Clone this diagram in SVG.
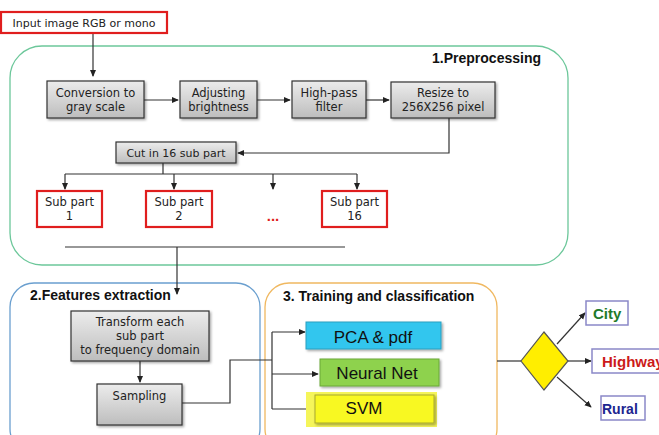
<svg xmlns="http://www.w3.org/2000/svg" width="659" height="435" viewBox="0 0 659 435">
<defs>
<linearGradient id="gg" x1="0" y1="0" x2="0" y2="1"><stop offset="0" stop-color="#ececec"/><stop offset="1" stop-color="#bdbdbd"/></linearGradient>
<filter id="sh" x="-10%" y="-10%" width="130%" height="140%"><feDropShadow dx="1.5" dy="1.5" stdDeviation="1" flood-color="#000" flood-opacity="0.35"/></filter>
<marker id="ah" viewBox="0 0 8 8" refX="7" refY="4" markerWidth="7" markerHeight="7" markerUnits="userSpaceOnUse" orient="auto"><path d="M0,0.5 L8,4 L0,7.5 z" fill="#222"/></marker>
</defs>
<style>
.t{font-family:"DejaVu Sans",sans-serif;font-size:11.5px;fill:#222;text-anchor:middle}
.ti{font-family:"Liberation Sans",Arial,sans-serif;font-size:14px;font-weight:bold;fill:#111}
.gb{fill:url(#gg);stroke:#333;stroke-width:1.2;filter:url(#sh)}
.rb{fill:#fff;stroke:#e01e1e;stroke-width:2.2}
.ln{fill:none;stroke:#333;stroke-width:1.2}
.ar{fill:none;stroke:#333;stroke-width:1.2;marker-end:url(#ah)}
.ct{font-family:"Liberation Sans",Arial,sans-serif;font-size:17px;fill:#111;text-anchor:middle}
.ob{fill:#fff;stroke:#8a88c8;stroke-width:1.5}
.ot{font-family:"Liberation Sans",Arial,sans-serif;font-size:15px;font-weight:bold;text-anchor:start}
</style>
<rect width="659" height="435" fill="#fff"/>
<g id="group-preprocessing">
<rect x="10" y="46" width="558" height="219" rx="32" fill="none" stroke="#6cc79a" stroke-width="1.3"/>
<text class="ti" x="541" y="63" text-anchor="end">1.Preprocessing</text>
</g>
<g id="group-features">
<rect x="10" y="283" width="250" height="170" rx="24" fill="none" stroke="#6a9fcf" stroke-width="1.3"/>
<text class="ti" x="30" y="300">2.Features extraction</text>
</g>
<g id="group-training">
<rect x="265" y="283" width="232" height="170" rx="24" fill="none" stroke="#f0b860" stroke-width="1.3"/>
<text class="ti" x="283" y="301">3. Training and classification</text>
</g>
<g id="connectors">
<path class="ar" d="M93,33 V76"/>
<path class="ar" d="M144,100 H178"/>
<path class="ar" d="M257,100 H290"/>
<path class="ar" d="M366,100 H389"/>
<path class="ar" d="M449,118 V153 H238"/>
<path class="ln" d="M163,163 V174 M65,174 H357"/>
<path class="ar" d="M65,174 V189"/>
<path class="ar" d="M174,174 V189"/>
<path class="ar" d="M273,174 V189"/>
<path class="ar" d="M357,174 V189"/>
<path class="ln" d="M65,247 H345"/>
<path class="ar" d="M177,247 V294"/>
<path class="ar" d="M140,361 V382"/>
<path class="ln" d="M182,403 H230 V360 H272 M272,332 V409"/>
<path class="ar" d="M272,332 H305"/>
<path class="ar" d="M272,374 H318"/>
<path class="ar" d="M272,409 H313"/>
<path class="ln" d="M497,361 H521"/>
<path class="ar" d="M557,344 L585,313"/>
<path class="ar" d="M568,361 H591"/>
<path class="ar" d="M557,377 L591,407"/>
</g>
<g id="input">
<rect x="1" y="12" width="166" height="21" fill="#fff" stroke="#e01e1e" stroke-width="2.2"/>
<text class="t" x="84" y="27" style="font-size:11px">Input image RGB or mono</text>
</g>
<g id="conversion">
<rect class="gb" x="47" y="81" width="97" height="37"/>
<text class="t" x="95.5" y="97">Conversion to</text>
<text class="t" x="95.5" y="111">gray scale</text>
</g>
<g id="adjusting">
<rect class="gb" x="180" y="81" width="77" height="37"/>
<text class="t" x="218.5" y="97">Adjusting</text>
<text class="t" x="218.5" y="111">brightness</text>
</g>
<g id="highpass">
<rect class="gb" x="292" y="81" width="74" height="37"/>
<text class="t" x="329" y="97">High-pass</text>
<text class="t" x="329" y="111">filter</text>
</g>
<g id="resize">
<rect class="gb" x="391" y="82" width="104" height="36"/>
<text class="t" x="443" y="97">Resize to</text>
<text class="t" x="443" y="111">256X256 pixel</text>
</g>
<g id="cut">
<rect class="gb" x="116" y="142" width="120" height="21"/>
<text class="t" x="176" y="157" style="font-size:11px">Cut in 16 sub part</text>
</g>
<g id="sub1">
<rect class="rb" x="37" y="191" width="65" height="36"/>
<text class="t" x="69.5" y="206">Sub part</text>
<text class="t" x="69.5" y="220">1</text>
</g>
<g id="sub2">
<rect class="rb" x="146" y="191" width="66" height="36"/>
<text class="t" x="179" y="206">Sub part</text>
<text class="t" x="179" y="220">2</text>
</g>
<g id="dots">
<text x="273" y="221" style="font-family:'Liberation Sans',Arial,sans-serif;font-size:15px;font-weight:bold;fill:#e01e1e;text-anchor:middle">...</text>
</g>
<g id="sub16">
<rect class="rb" x="322" y="191" width="65" height="36"/>
<text class="t" x="354.5" y="206">Sub part</text>
<text class="t" x="354.5" y="220">16</text>
</g>
<g id="transform">
<rect class="gb" x="71" y="311" width="138" height="50"/>
<text class="t" x="140" y="326">Transform each</text>
<text class="t" x="140" y="340">sub part</text>
<text class="t" x="140" y="354">to frequency domain</text>
</g>
<g id="sampling">
<rect class="gb" x="97" y="384" width="85" height="41"/>
<text class="t" x="139.5" y="400">Sampling</text>
</g>
<g id="pca">
<rect x="306" y="322" width="135" height="27" fill="#33c6ee" stroke="#2a9fc0" stroke-width="1" filter="url(#sh)"/>
<text class="ct" x="373" y="343">PCA &amp; pdf</text>
</g>
<g id="neural">
<rect x="320" y="359" width="119" height="27" fill="#8ed24e" stroke="#6aa838" stroke-width="1" filter="url(#sh)"/>
<text class="ct" x="377" y="379">Neural Net</text>
</g>
<g id="svm">
<rect x="306" y="392" width="131" height="35" fill="#f5f55a"/>
<rect x="315" y="395" width="119" height="28" fill="#f8f820" stroke="#a8a830" stroke-width="1" filter="url(#sh)"/>
<text class="ct" x="364" y="414">SVM</text>
</g>
<g id="decision">
<path d="M544,332 L568,361 L544,390 L521,361 z" fill="#ffee00" stroke="#555" stroke-width="1.2"/>
</g>
<g id="city">
<rect class="ob" x="586" y="301" width="42" height="24"/>
<text class="ot" x="593" y="319" fill="#1f7a2a">City</text>
</g>
<g id="highway">
<rect class="ob" x="592" y="349" width="75" height="24"/>
<text class="ot" x="602" y="367" fill="#cc1a1a">Highway</text>
</g>
<g id="rural">
<rect class="ob" x="601" y="396" width="44" height="24"/>
<text class="ot" x="602" y="414" fill="#1c2590" style="font-size:14px">Rural</text>
</g>
</svg>
